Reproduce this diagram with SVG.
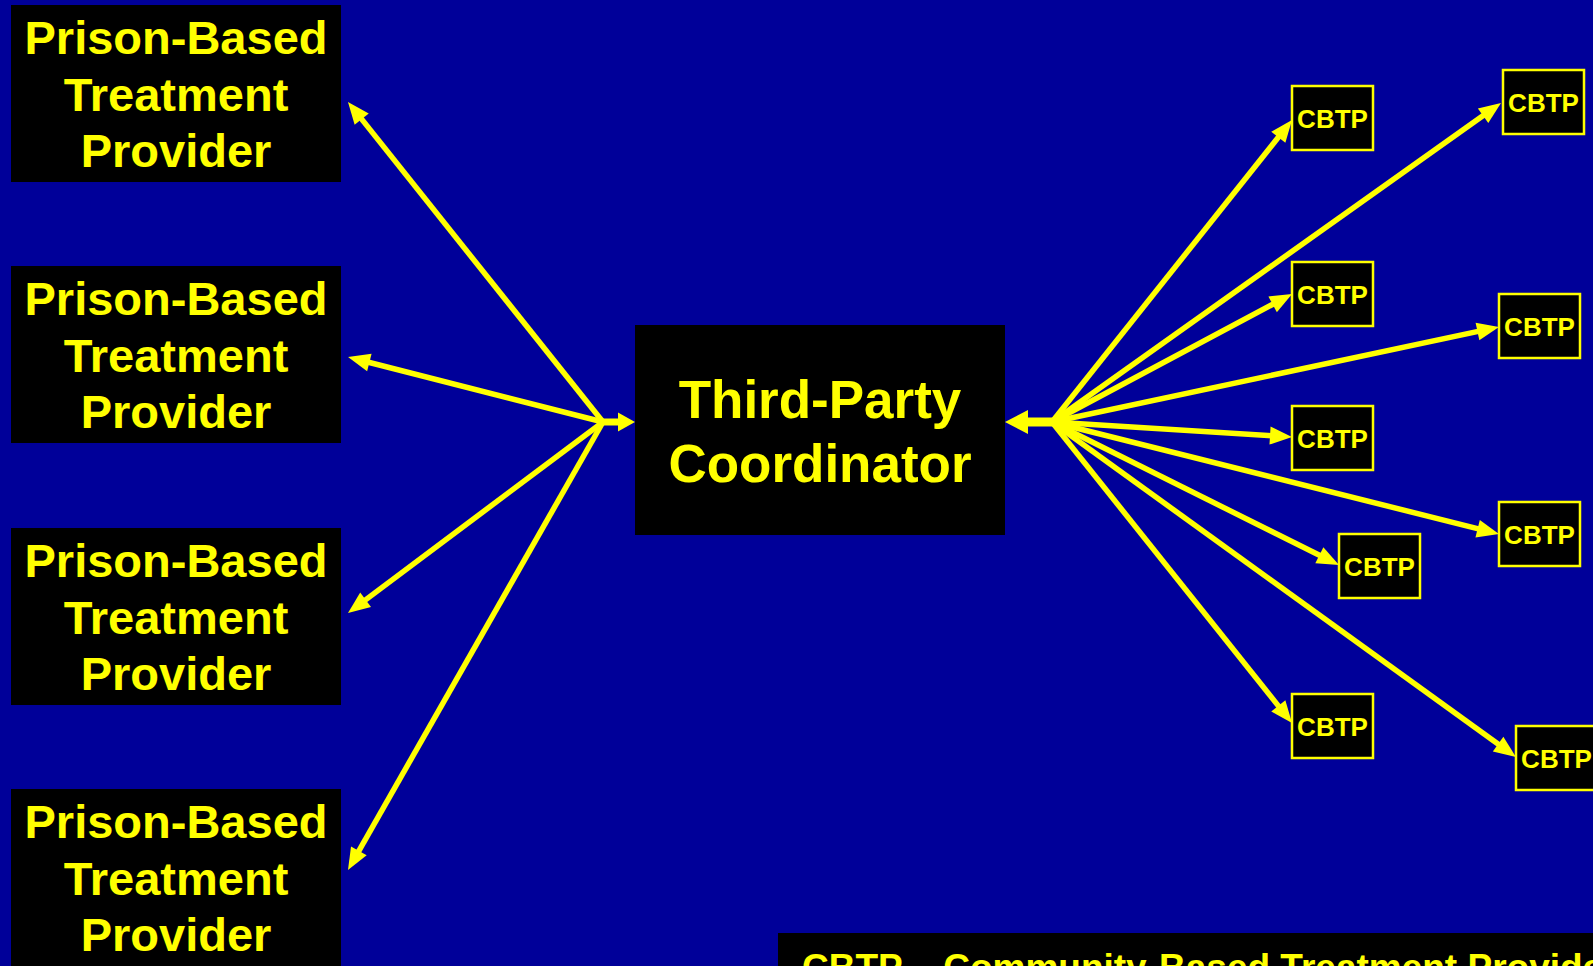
<svg xmlns="http://www.w3.org/2000/svg" width="1593" height="966" viewBox="0 0 1593 966">
<style>
.pbox{fill:#000000}
.ptxt{font-family:"Liberation Sans",Arial,sans-serif;font-weight:bold;font-size:47px;fill:#FFFF00;text-anchor:middle}
.ctxt{font-family:"Liberation Sans",Arial,sans-serif;font-weight:bold;font-size:53px;fill:#FFFF00;text-anchor:middle}
.cbox{fill:#000000;stroke:#FFFF00;stroke-width:2.5}
.ctext{font-family:"Liberation Sans",Arial,sans-serif;font-weight:bold;font-size:26px;fill:#FFFF00;text-anchor:middle}
.ftxt{font-family:"Liberation Sans",Arial,sans-serif;font-weight:bold;font-size:37px;fill:#FFFF00}
.ln{stroke:#FFFF00;stroke-width:5.5;fill:none;marker-end:url(#ah)}
</style>
<defs>
<marker id="ah" markerUnits="userSpaceOnUse" markerWidth="24" markerHeight="20" refX="8" refY="9" orient="auto" overflow="visible">
<path d="M0,0 L22,9 L0,18 z" fill="#FFFF00"/>
</marker>
</defs>
<rect width="1593" height="966" fill="#000099"/>

<g id="prison1">
<rect class="pbox" x="11" y="5" width="330" height="177"/>
<text class="ptxt" x="176" y="54">Prison-Based</text>
<text class="ptxt" x="176" y="111">Treatment</text>
<text class="ptxt" x="176" y="167">Provider</text>
</g>
<g id="prison2">
<rect class="pbox" x="11" y="266" width="330" height="177"/>
<text class="ptxt" x="176" y="315">Prison-Based</text>
<text class="ptxt" x="176" y="372">Treatment</text>
<text class="ptxt" x="176" y="428">Provider</text>
</g>
<g id="prison3">
<rect class="pbox" x="11" y="528" width="330" height="177"/>
<text class="ptxt" x="176" y="577">Prison-Based</text>
<text class="ptxt" x="176" y="634">Treatment</text>
<text class="ptxt" x="176" y="690">Provider</text>
</g>
<g id="prison4">
<rect class="pbox" x="11" y="789" width="330" height="177"/>
<text class="ptxt" x="176" y="838">Prison-Based</text>
<text class="ptxt" x="176" y="895">Treatment</text>
<text class="ptxt" x="176" y="951">Provider</text>
</g>

<g id="coordinator">
<rect class="pbox" x="635" y="325" width="370" height="210"/>
<text class="ctxt" x="820" y="418">Third-Party</text>
<text class="ctxt" x="820" y="482">Coordinator</text>
</g>

<g id="cbtpA"><rect class="cbox" x="1292" y="86" width="81" height="64"/><text class="ctext" x="1332.5" y="128">CBTP</text></g>
<g id="cbtpB"><rect class="cbox" x="1503" y="70" width="81" height="64"/><text class="ctext" x="1543.5" y="112">CBTP</text></g>
<g id="cbtpC"><rect class="cbox" x="1292" y="262" width="81" height="64"/><text class="ctext" x="1332.5" y="304">CBTP</text></g>
<g id="cbtpD"><rect class="cbox" x="1499" y="294" width="81" height="64"/><text class="ctext" x="1539.5" y="336">CBTP</text></g>
<g id="cbtpE"><rect class="cbox" x="1292" y="406" width="81" height="64"/><text class="ctext" x="1332.5" y="448">CBTP</text></g>
<g id="cbtpF"><rect class="cbox" x="1499" y="502" width="81" height="64"/><text class="ctext" x="1539.5" y="544">CBTP</text></g>
<g id="cbtpG"><rect class="cbox" x="1339" y="534" width="81" height="64"/><text class="ctext" x="1379.5" y="576">CBTP</text></g>
<g id="cbtpH"><rect class="cbox" x="1292" y="694" width="81" height="64"/><text class="ctext" x="1332.5" y="736">CBTP</text></g>
<g id="cbtpI"><rect class="cbox" x="1516" y="726" width="81" height="64"/><text class="ctext" x="1556.5" y="768">CBTP</text></g>

<g id="connectors">
<line class="ln" x1="603" y1="422" x2="356.7" y2="112.9"/>
<line class="ln" x1="603" y1="422" x2="361.6" y2="360.5"/>
<line class="ln" x1="603" y1="422" x2="359.2" y2="604.6"/>
<line class="ln" x1="603" y1="422" x2="354.9" y2="857.8"/>
<line x1="600" y1="422" x2="620" y2="422" stroke="#FFFF00" stroke-width="7"/>
<path d="M618,412.5 L635,422 L618,431.5 z" fill="#FFFF00"/>

<line class="ln" x1="1052" y1="422" x2="1283.3" y2="131.0"/>
<line class="ln" x1="1052" y1="422" x2="1489.6" y2="111.1"/>
<line class="ln" x1="1052" y1="422" x2="1279.7" y2="300.6"/>
<line class="ln" x1="1052" y1="422" x2="1485.3" y2="329.9"/>
<line class="ln" x1="1052" y1="422" x2="1278.0" y2="436.1"/>
<line class="ln" x1="1052" y1="422" x2="1485.4" y2="530.6"/>
<line class="ln" x1="1052" y1="422" x2="1326.5" y2="558.8"/>
<line class="ln" x1="1052" y1="422" x2="1283.3" y2="712.1"/>
<line class="ln" x1="1052" y1="422" x2="1504.6" y2="748.8"/>
<line x1="1055" y1="422" x2="1026" y2="422" stroke="#FFFF00" stroke-width="9"/>
<path d="M1028,410 L1005,422 L1028,434 z" fill="#FFFF00"/>
</g>

<g id="legend">
<rect class="pbox" x="778" y="933" width="815" height="33"/>
<text class="ftxt" x="802" y="980">CBTP – Community-Based Treatment Provider</text>
</g>
</svg>
